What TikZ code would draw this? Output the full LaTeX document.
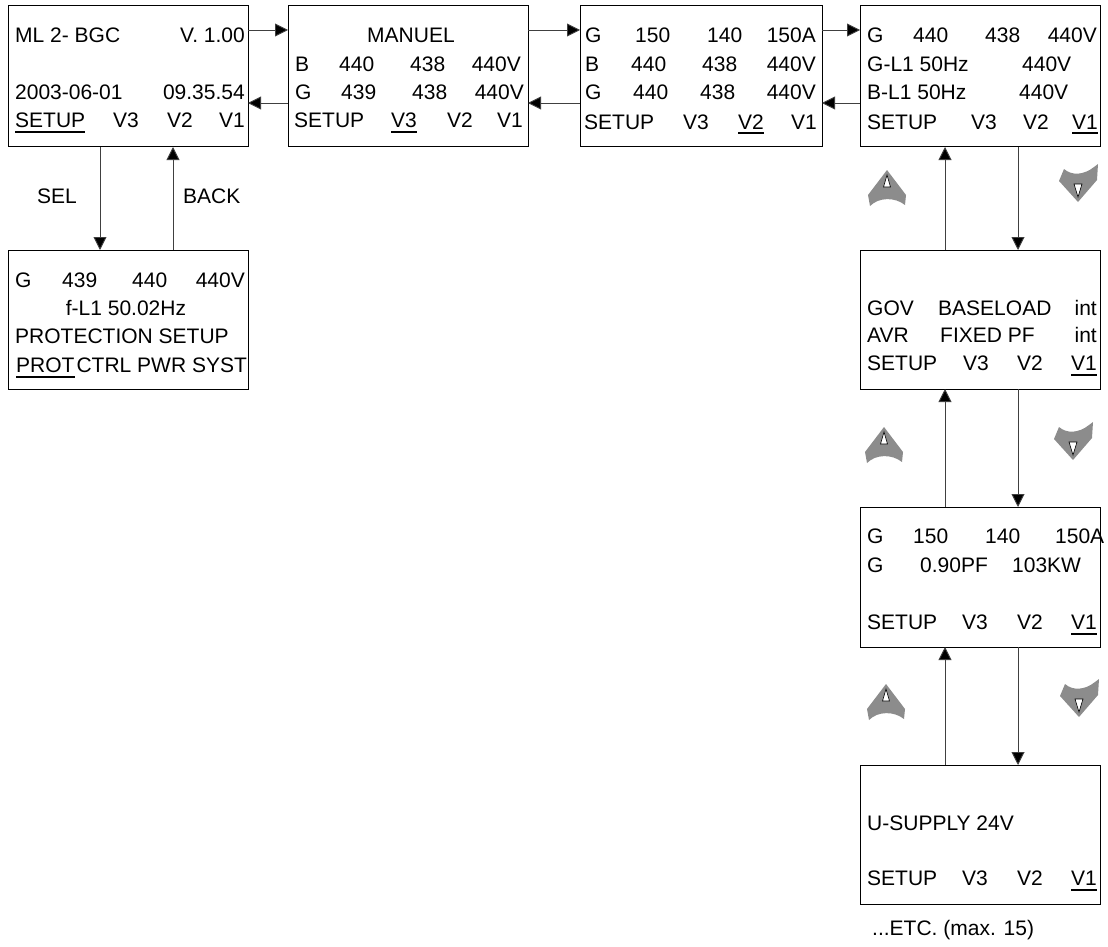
\documentclass[tikz,border=0pt]{standalone}
\usepackage{fontspec}
\setmainfont{Liberation Sans}
\usetikzlibrary{arrows.meta}
\newcommand\myul[1]{\setbox0\hbox{#1}\rlap{\rule[-5.5pt]{\wd0}{2pt}}\box0}
\newcommand\upicon[2]{%
  \begin{scope}[shift={(#1,#2)}]
    \fill[icon] (0,-18) -- (-19,7) -- (-17,18) .. controls (-8,9) and (8,9) .. (18,17) -- (19,7) -- cycle;
    \draw[fill=white, line width=0.6pt] (-3.5,-1) -- (3.5,-1) -- (0,-13) -- cycle;
  \end{scope}}
\newcommand\downicon[2]{%
  \begin{scope}[shift={(#1,#2)}]
    \fill[icon] (0,19) -- (-19,-2) -- (-14,-14) .. controls (-6,-7) and (6,-8) .. (16,-16) -- (20,-19) -- (19,-3) -- cycle;
    \draw[fill=white, line width=0.6pt] (-4,1) -- (4,1) -- (0,14) -- cycle;
  \end{scope}}
\begin{document}
\begin{tikzpicture}[x=1pt,y=-1pt,
  box/.style={draw=black, line width=1pt, minimum width=240pt, inner sep=0pt, outer sep=0pt, anchor=north west},
  tx/.style={anchor=base west, inner sep=0pt, font=\fontsize{21}{25}\selectfont},
  tr/.style={tx, anchor=base east},
  tc/.style={tx, anchor=base},
  conn/.style={draw=black!75, line width=0.9pt, -{Triangle[length=13pt,width=13pt,fill=black]}},
  icon/.style={fill=black!45}]
\useasboundingbox (0,0) rectangle (1108,947);

% boxes
\node[box, minimum height=141pt] (b1) at (8,6) {};
\node[box, minimum height=141pt] (b2) at (288,6) {};
\node[box, minimum height=141pt, minimum width=242pt] (b3) at (580,6) {};
\node[box, minimum height=141pt] (b4) at (860,6) {};
\node[box, minimum height=139pt] (b5) at (8,250) {};
\node[box, minimum height=139pt] (b6) at (860,250) {};
\node[box, minimum height=140pt] (b7) at (860,507) {};
\node[box, minimum height=139pt] (b8) at (860,765) {};

% box 1
\node[tx] (a1) at (15,43) {ML 2- BGC};
\node[tr] (a2) at (245,43) {V. 1.00};
\node[tx] (a3) at (15,100) {2003-06-01};
\node[tr] (a4) at (245,100) {09.35.54};
\node[tx] (a5) at (15,128) {\myul{SETUP}};
\node[tx] (a6) at (113,128) {V3};
\node[tx] (a7) at (167,128) {V2};
\node[tr] (a8) at (245,128) {V1};

% box 2
\node[tc] (c1) at (411,43) {MANUEL};
\node[tx] (c2) at (295,72) {B};
\node[tx] (c3) at (339,72) {440};
\node[tx] (c4) at (410,72) {438};
\node[tr] (c5) at (521,72) {440V};
\node[tx] (c6) at (295,100) {G};
\node[tx] (c7) at (341,100) {439};
\node[tx] (c8) at (412,100) {438};
\node[tr] (c9) at (524,100) {440V};
\node[tx] (c10) at (294,128) {SETUP};
\node[tx] (c11) at (391,128) {\myul{V3}};
\node[tx] (c12) at (447,128) {V2};
\node[tr] (c13) at (523,128) {V1};

% box 3
\node[tx] (d1) at (585,43) {G};
\node[tx] (d2) at (635,43) {150};
\node[tx] (d3) at (707,43) {140};
\node[tr] (d4) at (816,43) {150A};
\node[tx] (d5) at (585,72) {B};
\node[tx] (d6) at (631,72) {440};
\node[tx] (d7) at (702,72) {438};
\node[tr] (d8) at (816,72) {440V};
\node[tx] (d9) at (585,100) {G};
\node[tx] (d10) at (633,100) {440};
\node[tx] (d11) at (700,100) {438};
\node[tr] (d12) at (816,100) {440V};
\node[tx] (d13) at (584,129) {SETUP};
\node[tx] (d14) at (683,129) {V3};
\node[tx] (d15) at (738,129) {\myul{V2}};
\node[tr] (d16) at (817,129) {V1};

% box 4
\node[tx] (e1) at (867,43) {G};
\node[tx] (e2) at (913,43) {440};
\node[tx] (e3) at (985,43) {438};
\node[tr] (e4) at (1097,43) {440V};
\node[tx] (e5) at (867,72) {G-L1 50Hz};
\node[tx] (e6) at (1022,72) {440V};
\node[tx] (e7) at (867,100) {B-L1 50Hz};
\node[tx] (e8) at (1019,100) {440V};
\node[tx] (e9) at (867,129) {SETUP};
\node[tx] (e10) at (971,129) {V3};
\node[tx] (e11) at (1023,129) {V2};
\node[tr] (e12) at (1098,129) {\myul{V1}};

% box 5
\node[tx] (f1) at (15,287) {G};
\node[tx] (f2) at (62,287) {439};
\node[tx] (f3) at (132,287) {440};
\node[tr] (f4) at (245,287) {440V};
\node[tc] (f5) at (126,315) {f-L1 50.02Hz};
\node[tx] (f6) at (15,343) {PROTECTION SETUP};
\node[tx] (f7) at (16,372) {\myul{PROT}\hspace{2pt}CTRL PWR SYST};

% box 6
\node[tx] (g1) at (867,315) {GOV};
\node[tx] (g2) at (938,315) {BASELOAD};
\node[tr] (g3) at (1097,315) {int};
\node[tx] (g4) at (867,342) {AVR};
\node[tx] (g5) at (940,342) {FIXED PF};
\node[tr] (g6) at (1097,342) {int};
\node[tx] (g7) at (867,370) {SETUP};
\node[tx] (g8) at (963,370) {V3};
\node[tx] (g9) at (1017,370) {V2};
\node[tr] (g10) at (1097,370) {\myul{V1}};

% box 7
\node[tx] (h1) at (867,543) {G};
\node[tx] (h2) at (913,543) {150};
\node[tx] (h3) at (985,543) {140};
\node[tx] (h4) at (1055,543) {150A};
\node[tx] (h5) at (867,572) {G};
\node[tx] (h6) at (920,572) {0.90PF};
\node[tx] (h7) at (1012,572) {103KW};
\node[tx] (h8) at (867,629) {SETUP};
\node[tx] (h9) at (962,629) {V3};
\node[tx] (h10) at (1017,629) {V2};
\node[tr] (h11) at (1097,629) {\myul{V1}};

% box 8
\node[tx] (k1) at (867,830) {U-SUPPLY 24V};
\node[tx] (k2) at (867,885) {SETUP};
\node[tx] (k3) at (962,885) {V3};
\node[tx] (k4) at (1017,885) {V2};
\node[tr] (k5) at (1097,885) {\myul{V1}};
\node[tx] (k6) at (872,935) {...ETC. (max. 15)};

% labels
\node[tx] (sel) at (37,203) {SEL};
\node[tx] (back) at (183,203) {BACK};

% horizontal connectors
\draw[conn] ([yshift=-24pt]b1.north east) -- ([yshift=-24pt]b2.north west);
\draw[conn] ([yshift=-97pt]b2.north west) -- ([yshift=-97pt]b1.north east);
\draw[conn] ([yshift=-24pt]b2.north east) -- ([yshift=-24pt]b3.north west);
\draw[conn] ([yshift=-97pt]b3.north west) -- ([yshift=-97pt]b2.north east);
\draw[conn] ([yshift=-24pt]b3.north east) -- ([yshift=-24pt]b4.north west);
\draw[conn] ([yshift=-97pt]b4.north west) -- ([yshift=-97pt]b3.north east);

% vertical connectors
\draw[conn] ([xshift=92pt]b1.south west) -- ([xshift=92pt]b5.north west);
\draw[conn] ([xshift=165pt]b5.north west) -- ([xshift=165pt]b1.south west);
\draw[conn] ([xshift=85pt]b6.north west) -- ([xshift=85pt]b4.south west);
\draw[conn] ([xshift=158pt]b4.south west) -- ([xshift=158pt]b6.north west);
\draw[conn] ([xshift=85pt]b7.north west) -- ([xshift=85pt]b6.south west);
\draw[conn] ([xshift=158pt]b6.south west) -- ([xshift=158pt]b7.north west);
\draw[conn] ([xshift=85pt]b8.north west) -- ([xshift=85pt]b7.south west);
\draw[conn] ([xshift=158pt]b7.south west) -- ([xshift=158pt]b8.north west);

% icons
\upicon{887}{188}
\downicon{1078}{183}
\upicon{884}{445}
\downicon{1073}{441}
\upicon{886}{702}
\downicon{1079}{698}
\end{tikzpicture}
\end{document}
